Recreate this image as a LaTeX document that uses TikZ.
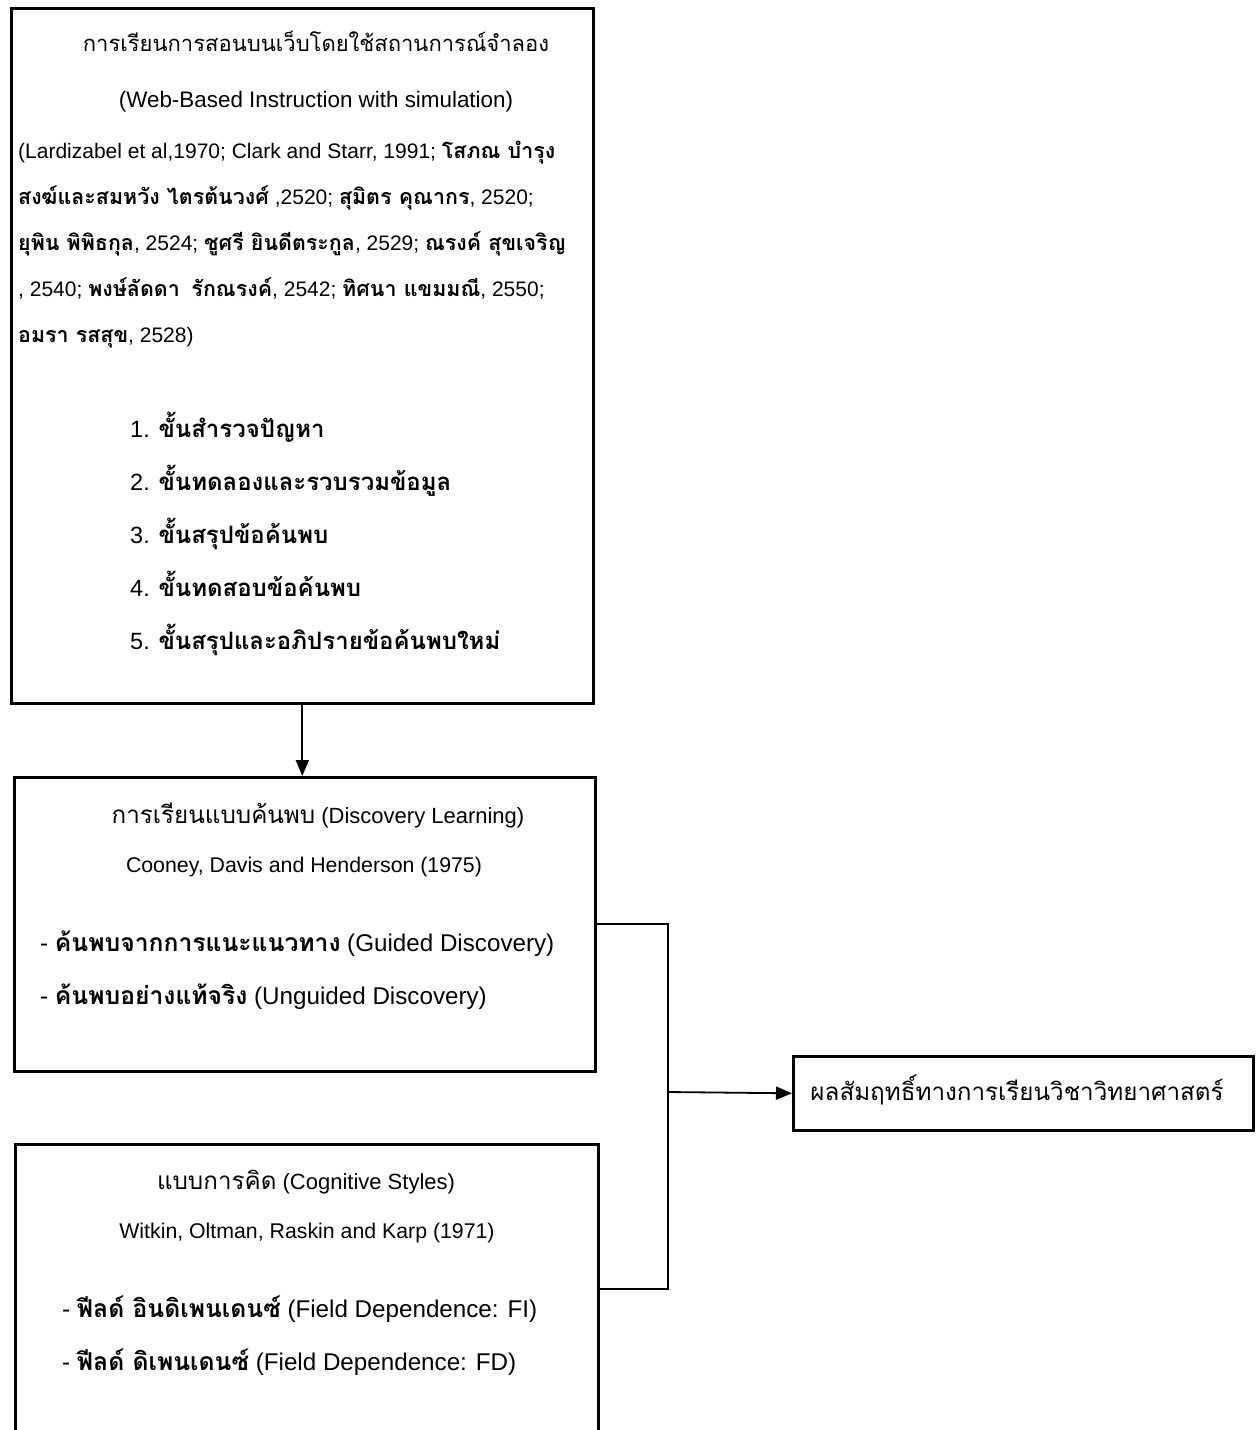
\documentclass[tikz,border=0pt]{standalone}
\usepackage{fontspec}
\setmainfont{Liberation Sans}
\newfontfamily\thaifont[Script=Thai,Scale=1.1]{Loma}
\newfontfamily\thaibf[Script=Thai,Scale=1.02]{Loma}
\newcommand\thx[1]{{\thaifont #1}}
\newcommand\thb[1]{{\thaibf\bfseries #1}}
\newcommand\fsz[1]{\fontsize{#1}{#1}\selectfont}
\usetikzlibrary{arrows.meta}
\begin{document}
\begin{tikzpicture}[x=1pt,y=-1pt,
  box/.style={draw, line width=2.6pt, inner sep=0pt, anchor=north west},
  conn/.style={line width=1.8pt},
  arr/.style={conn, -{Triangle[length=16pt,width=13pt]}},
  txt/.style={inner sep=0pt, anchor=base},
  txtl/.style={inner sep=0pt, anchor=base west},
  ttl/.style={font=\fsz{20}},
  big/.style={font=\fsz{22}},
  refs/.style={font=\fsz{21}},
  item/.style={font=\fsz{23.5}},
  bul/.style={font=\fsz{24.2}},
  small/.style={font=\fsz{21.3}}
]
\path[use as bounding box, clip] (0,0) rectangle (1260,1430);
\fill[white] (0,0) rectangle (1260,1430);
% boxes
\node[box, minimum width=582pt, minimum height=695pt] (top) at (10,7) {};
\node[box, minimum width=581pt, minimum height=294pt] (mid) at (13,776) {};
\node[box, minimum width=583pt, minimum height=290pt] (bot) at (14,1143) {};
\node[box, minimum width=460pt, minimum height=74pt] (res) at (792,1055) {};
% top box text
\node[txt, ttl] (t1) at (316,51) {\thx{การเรียนการสอนบนเว็บโดยใช้สถานการณ์จำลอง}};
\node[txt, font=\fsz{22.4}] (t2) at (316,107) {(Web-Based Instruction with simulation)};
\node[txtl, refs] (r1) at (18,158) {(Lardizabel et al,1970; Clark and Starr, 1991; \thb{โสภณ บำรุง}};
\node[txtl, refs] (r2) at (18,204) {\thb{สงฆ์และสมหวัง ไตรต้นวงศ์} ,2520; \thb{สุมิตร คุณากร}, 2520;};
\node[txtl, refs] (r3) at (18,250) {\thb{ยุพิน พิพิธกุล}, 2524; \thb{ชูศรี ยินดีตระกูล}, 2529; \thb{ณรงค์ สุขเจริญ}};
\node[txtl, refs] (r4) at (18,296) {, 2540; \thb{พงษ์ลัดดา}\ \ \thb{รักณรงค์}, 2542; \thb{ทิศนา แขมมณี}, 2550;};
\node[txtl, refs] (r5) at (18,342) {\thb{อมรา รสสุข}, 2528)};
\node[txtl, item] (s1) at (130,437) {1. \thb{ขั้นสำรวจปัญหา}};
\node[txtl, item] (s2) at (130,490) {2. \thb{ขั้นทดลองและรวบรวมข้อมูล}};
\node[txtl, item] (s3) at (130,543) {3. \thb{ขั้นสรุปข้อค้นพบ}};
\node[txtl, item] (s4) at (130,596) {4. \thb{ขั้นทดสอบข้อค้นพบ}};
\node[txtl, item] (s5) at (130,649) {5. \thb{ขั้นสรุปและอภิปรายข้อค้นพบใหม่}};
% middle box text
\node[txt, big] (m1) at (318,823) {\thx{การเรียนแบบค้นพบ} (Discovery Learning)};
\node[txt, small] (m2) at (304,872) {Cooney, Davis and Henderson (1975)};
\node[txtl, bul] (m3) at (40,951) {- \thb{ค้นพบจากการแนะแนวทาง} (Guided Discovery)};
\node[txtl, bul] (m4) at (40,1004) {- \thb{ค้นพบอย่างแท้จริง} (Unguided Discovery)};
% bottom box text
\node[txt, big] (b1) at (306,1189) {\thx{แบบการคิด} (Cognitive Styles)};
\node[txt, small] (b2) at (307,1238) {Witkin, Oltman, Raskin and Karp (1971)};
\node[txtl, bul] (b3) at (62,1317) {- \thb{ฟีลด์ อินดิเพนเดนซ์} (Field Dependence: FI)};
\node[txtl, bul] (b4) at (62,1370) {- \thb{ฟีลด์ ดิเพนเดนซ์} (Field Dependence: FD)};
% result box text
\node[txt, big] (rt) at (1017,1100) {\thx{ผลสัมฤทธิ์ทางการเรียนวิชาวิทยาศาสตร์}};
% connectors
\coordinate (jn) at (668,1092);
\draw[arr] (top.south) -- (top.south |- mid.north);
\draw[conn] (mid.east) -| (jn) |- (bot.east);
\draw[arr] (jn) -- (res.west);
\end{tikzpicture}
\end{document}
